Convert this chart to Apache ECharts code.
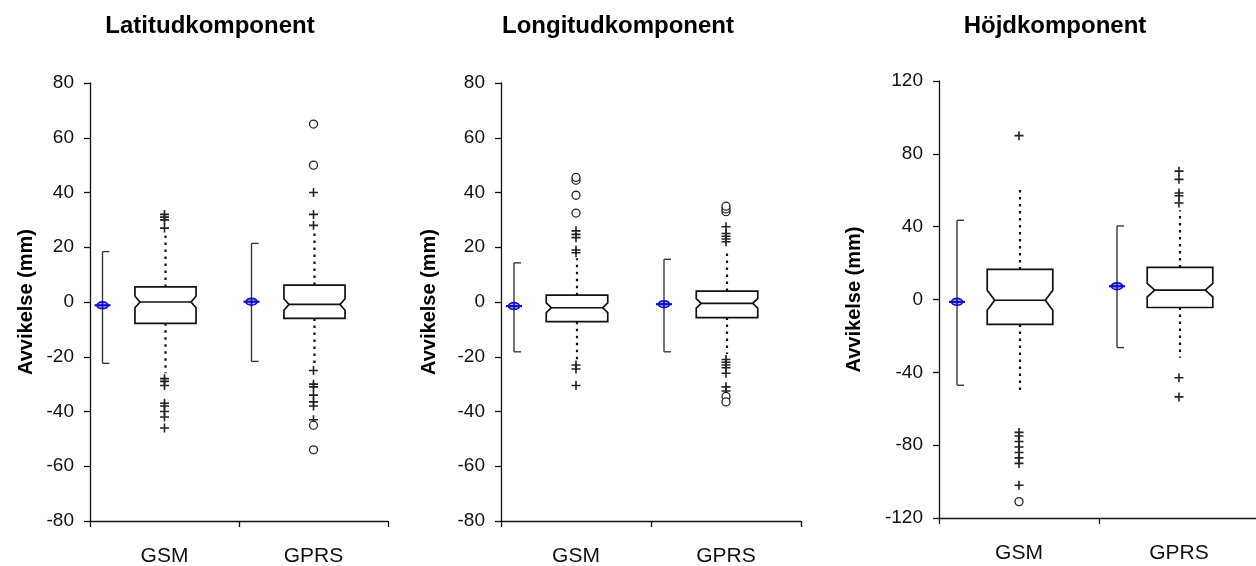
<!DOCTYPE html>
<html><head><meta charset="utf-8">
<script src="https://cdn.jsdelivr.net/npm/echarts@6/dist/echarts.min.js"></script>
<style>html,body{margin:0;padding:0;background:#fff}#c{width:1256px;height:566px}</style>
</head><body><div id="c"></div>
<script>
// ---------------- data ----------------
const categories = ['GSM', 'GPRS'];
const panelTitles = ['Latitudkomponent', 'Longitudkomponent', 'Höjdkomponent'];
const yAxisName = 'Avvikelse (mm)';
const yRanges = [[-80, 80, 20], [-80, 80, 20], [-120, 120, 40]];

// box rows: [lowerWhisker, q1, median, q3, upperWhisker, notchLow, notchHigh]
const latBoxes = [[-26, -7.8, 0, 5.5, 25, -2.1, 2.1], [-23, -6, -0.9, 6.2, 25, -3, 1.2]];
const lonBoxes = [[-21, -7.2, -2.1, 2.5, 16, -3.9, -0.3], [-19, -5.7, -0.5, 4, 18, -2.2, 1.2]];
const hojdBoxes = [[-52, -13.7, -0.4, 16.5, 61.5, -5.9, 5.1], [-32, -4.4, 5.1, 17.6, 49, 1.4, 8.8]];

// bracket rows: [low, mean, high]
const latBrackets = [[-22.4, -1.2, 18.4], [-21.7, 0.1, 21.4]];
const lonBrackets = [[-18.2, -1.5, 14.3], [-18.2, -0.8, 15.6]];
const hojdBrackets = [[-47.1, -1.3, 43.5], [-26.4, 7.3, 40.4]];

// outliers drawn as "+"
const latPlus = [[27, 30, 31, 32, -28, -29, -30.5, -37, -38, -40, -42, -46],
                 [28, 32, 40, -25, -30, -31, -34, -36.5, -38, -43]];
const lonPlus = [[18, 19, 23.5, 24.7, 26, -23, -24.5, -30.5],
                 [22, 23, 24, 25, 27.5, -21, -22, -23, -24, -26, -31, -32.5]];
const hojdPlus = [[90, -73, -75, -78, -81, -84, -87, -90, -102],
                  [53, 57, 58.5, 66, 70.5, -43, -53.5]];

// outliers drawn as "o"
const latCircles = [[], [50, 65, -45, -54]];
const lonCircles = [[32.5, 39, 44.5, 45.5], [33, 34, 35, -34.5, -36.5]];
const hojdCircles = [[-111], []];

// ---------------- layout / style ----------------
const panels = [
  {boxes: latBoxes, brackets: latBrackets, plus: latPlus, circles: latCircles},
  {boxes: lonBoxes, brackets: lonBrackets, plus: lonPlus, circles: lonCircles},
  {boxes: hojdBoxes, brackets: hojdBrackets, plus: hojdPlus, circles: hojdCircles}
];
const grids = [
  {left: 90, top: 83, width: 298, height: 438, outerBoundsMode: 'none'},
  {left: 501, top: 83, width: 300, height: 438, outerBoundsMode: 'none'},
  {left: 939, top: 81, width: 320, height: 437, outerBoundsMode: 'none'}
];
const titleCenters = [210, 618, 1055];
const nameGaps = [54, 62, 75];
const notchDepth = [5, 5, 7.5];
const BRACKET_OFFSET = 62;
const INK = '#111';
const FONT = 'Liberation Sans, Arial, sans-serif';

function makeBoxRender(pi) {
  return function (params, api) {
    const c = api.value(0);
    const lw = api.value(1), q1 = api.value(2), med = api.value(3), q3 = api.value(4),
          uw = api.value(5), nl = api.value(6), nh = api.value(7);
    const band = api.size([1, 0])[0];
    const half = band * 0.205;
    const y = v => api.coord([c, v])[1];
    const cx = api.coord([c, med])[0] + 1;
    const xl = cx - half, xr = cx + half, d = notchDepth[pi];
    const yq1 = y(q1), yq3 = y(q3), ym = y(med), ynl = y(nl), ynh = y(nh);
    const dot = {stroke: INK, lineWidth: 2.2, lineDash: [2.5, 4.5]};
    return {
      type: 'group',
      children: [
        {type: 'line', shape: {x1: cx, y1: yq3, x2: cx, y2: y(uw)}, style: dot},
        {type: 'line', shape: {x1: cx, y1: yq1, x2: cx, y2: y(lw)}, style: dot},
        {type: 'polygon', shape: {points: [
          [xl, yq3], [xr, yq3], [xr, ynh], [xr - d, ym], [xr, ynl], [xr, yq1],
          [xl, yq1], [xl, ynl], [xl + d, ym], [xl, ynh]]},
          style: {fill: '#fff', stroke: INK, lineWidth: 1.7}},
        {type: 'line', shape: {x1: xl + d, y1: ym, x2: xr - d, y2: ym},
          style: {stroke: INK, lineWidth: 1.7}}
      ]
    };
  };
}

function bracketRender(params, api) {
  const c = api.value(0);
  const lo = api.value(1), mean = api.value(2), hi = api.value(3);
  const x = api.coord([c, mean])[0] - BRACKET_OFFSET;
  const yl = api.coord([c, lo])[1], ym = api.coord([c, mean])[1], yh = api.coord([c, hi])[1];
  const s = {stroke: '#3a3a3a', lineWidth: 1.4};
  const blue = '#1010c8';
  return {
    type: 'group',
    children: [
      {type: 'line', shape: {x1: x, y1: yh, x2: x, y2: yl}, style: s},
      {type: 'line', shape: {x1: x, y1: yh, x2: x + 7, y2: yh}, style: s},
      {type: 'line', shape: {x1: x, y1: yl, x2: x + 7, y2: yl}, style: s},
      {type: 'ellipse', shape: {cx: x, cy: ym, rx: 5.5, ry: 3.4}, style: {fill: 'rgba(40,40,230,0.35)', stroke: blue, lineWidth: 1.7}},
      {type: 'line', shape: {x1: x - 8, y1: ym, x2: x + 8, y2: ym}, style: {stroke: blue, lineWidth: 2.2}},
      {type: 'line', shape: {x1: x, y1: ym - 3.5, x2: x, y2: ym + 3.5}, style: {stroke: blue, lineWidth: 1.4}}
    ]
  };
}

const PLUS = 'path://M0,3.7H3.7V0H5.3V3.7H9V5.3H5.3V9H3.7V5.3H0Z';

const option = {
  animation: false,
  backgroundColor: '#fff',
  title: panelTitles.map((t, i) => ({
    text: t, left: titleCenters[i], top: 14, textAlign: 'center', padding: 0,
    textStyle: {fontFamily: FONT, fontWeight: 'bold', fontSize: 24, color: '#000'}
  })),
  grid: grids,
  xAxis: grids.map((g, i) => ({
    type: 'category', gridIndex: i, data: categories, boundaryGap: true,
    axisLine: {onZero: false, lineStyle: {color: INK, width: 1.3}},
    axisTick: {show: true, length: 6, lineStyle: {color: INK, width: 1.3}},
    axisLabel: {fontFamily: FONT, fontSize: 21, color: '#111', margin: 25},
    splitLine: {show: false}
  })),
  yAxis: grids.map((g, i) => ({
    type: 'value', gridIndex: i, min: yRanges[i][0], max: yRanges[i][1], interval: yRanges[i][2],
    name: yAxisName, nameLocation: 'middle', nameGap: nameGaps[i],
    nameTextStyle: {fontFamily: FONT, fontWeight: 'bold', fontSize: 20, color: '#000'},
    axisLine: {show: true, lineStyle: {color: INK, width: 1.3}},
    axisTick: {show: true, length: 6, lineStyle: {color: INK, width: 1.3}},
    axisLabel: {fontFamily: FONT, fontSize: 19, color: '#111', margin: 16},
    splitLine: {show: false}
  })),
  series: []
};

panels.forEach((p, i) => {
  option.series.push({
    type: 'custom', xAxisIndex: i, yAxisIndex: i, renderItem: bracketRender,
    encode: {x: 0, y: [1, 2, 3]},
    data: p.brackets.map((b, ci) => [ci].concat(b)), silent: true, z: 3
  });
  option.series.push({
    type: 'custom', xAxisIndex: i, yAxisIndex: i, renderItem: makeBoxRender(i),
    encode: {x: 0, y: [1, 2, 3, 4, 5, 6, 7]},
    data: p.boxes.map((b, ci) => [ci].concat(b)), silent: true, z: 3
  });
  option.series.push({
    type: 'scatter', xAxisIndex: i, yAxisIndex: i, symbol: PLUS, symbolSize: 9,
    itemStyle: {color: '#222', opacity: 1},
    data: [].concat(...p.plus.map((arr, ci) => arr.map(v => [ci, v]))), silent: true, z: 4
  });
  option.series.push({
    type: 'scatter', xAxisIndex: i, yAxisIndex: i, symbol: 'circle', symbolSize: 8,
    itemStyle: {color: '#fff', borderColor: '#222', borderWidth: 1.3, opacity: 1},
    data: [].concat(...p.circles.map((arr, ci) => arr.map(v => [ci, v]))), silent: true, z: 4
  });
});

const chart = echarts.init(document.getElementById('c'), null, {renderer: 'canvas'});
chart.setOption(option);
</script>
</body></html>
